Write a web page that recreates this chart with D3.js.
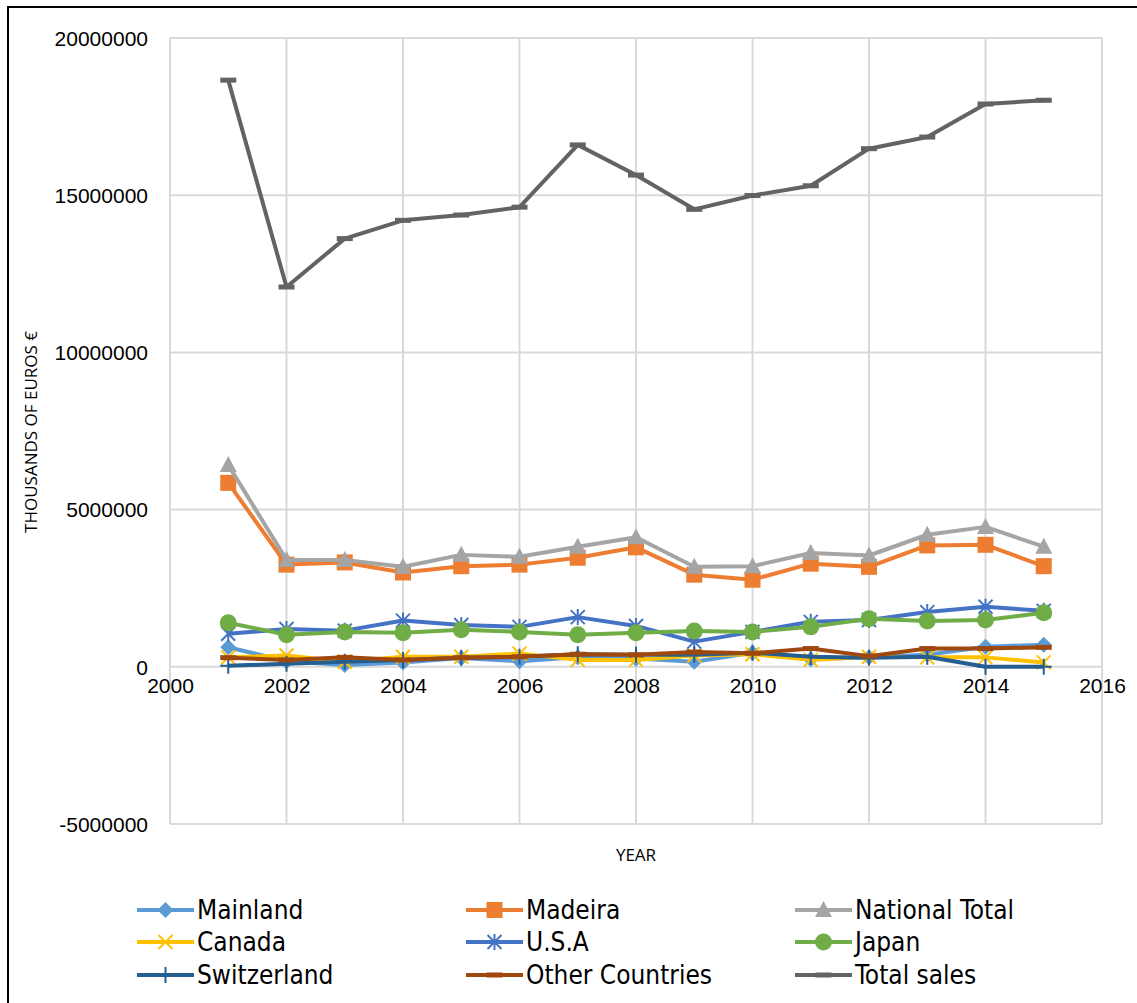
<!DOCTYPE html>
<html>
<head>
<meta charset="utf-8">
<script src="https://cdn.jsdelivr.net/npm/d3@7"></script>
<style>
  html, body { margin: 0; padding: 0; background: #fff; }
  svg { display: block; }
</style>
</head>
<body>
<svg id="chart" width="1137" height="1003"></svg>
<script>
// Sales by market, thousands of euros
const years = [2001, 2002, 2003, 2004, 2005, 2006, 2007, 2008, 2009, 2010, 2011, 2012, 2013, 2014, 2015];

const mainland       = [620000, 180000, 60000, 140000, 280000, 180000, 300000, 260000, 160000, 450000, 240000, 300000, 380000, 640000, 700000];
const madeira        = [5850000, 3250000, 3320000, 3000000, 3200000, 3250000, 3470000, 3800000, 2930000, 2770000, 3280000, 3180000, 3860000, 3880000, 3200000];
const nationalTotal  = [6420000, 3400000, 3400000, 3180000, 3560000, 3500000, 3820000, 4120000, 3180000, 3200000, 3620000, 3540000, 4200000, 4450000, 3820000];
const canada         = [300000, 360000, 160000, 320000, 320000, 420000, 220000, 220000, 360000, 400000, 220000, 320000, 300000, 300000, 140000];
const usa            = [1050000, 1200000, 1150000, 1470000, 1330000, 1270000, 1580000, 1300000, 800000, 1110000, 1430000, 1490000, 1740000, 1910000, 1780000];
const japan          = [1400000, 1020000, 1110000, 1080000, 1180000, 1110000, 1020000, 1080000, 1140000, 1110000, 1270000, 1530000, 1460000, 1490000, 1720000];
const switzerland    = [30000, 100000, 160000, 220000, 290000, 320000, 400000, 380000, 380000, 450000, 320000, 290000, 320000, 0, 0];
const otherCountries = [290000, 220000, 300000, 220000, 290000, 320000, 400000, 380000, 470000, 430000, 580000, 340000, 580000, 580000, 620000];
const totalSales     = [18660000, 12080000, 13620000, 14200000, 14370000, 14620000, 16600000, 15640000, 14550000, 14990000, 15300000, 16480000, 16850000, 17900000, 18020000];

const xTicks = [2000, 2002, 2004, 2006, 2008, 2010, 2012, 2014, 2016];
const yTicks = [-5000000, 0, 5000000, 10000000, 15000000, 20000000];

const seriesNames  = ["Mainland", "Madeira", "National Total", "Canada", "U.S.A", "Japan", "Switzerland", "Other Countries", "Total sales"];
const seriesValues = [mainland, madeira, nationalTotal, canada, usa, japan, switzerland, otherCountries, totalSales];
const seriesColors = ["#5B9BD5", "#ED7D31", "#A5A5A5", "#FFC000", "#4472C4", "#70AD47", "#255E91", "#9E480E", "#636363"];
const seriesMarkers = ["diamond", "square", "triangle", "x", "star", "circle", "plus", "dash", "dash"];

const svg = d3.select("#chart");

// outer frame (left and top edges visible)
svg.append("rect")
  .attr("x", 8).attr("y", 7)
  .attr("width", 1200).attr("height", 1100)
  .attr("fill", "none").attr("stroke", "#000").attr("stroke-width", 2);

const plot = { left: 170, right: 1102, top: 38, bottom: 824 };

const x = d3.scaleLinear().domain([2000, 2016]).range([plot.left, plot.right]);
const y = d3.scaleLinear().domain([-5000000, 20000000]).range([plot.bottom, plot.top]);

// gridlines
const grid = svg.append("g").attr("stroke", "#d9d9d9").attr("stroke-width", 2);
grid.selectAll("line.v").data(xTicks).join("line")
  .attr("x1", d => x(d)).attr("x2", d => x(d))
  .attr("y1", plot.top).attr("y2", plot.bottom);
grid.selectAll("line.h").data(yTicks).join("line")
  .attr("y1", d => y(d)).attr("y2", d => y(d))
  .attr("x1", plot.left).attr("x2", plot.right);

// axes (labels only, lines are drawn by the grid)
const plainNumber = d => String(d);
const xAxis = svg.append("g")
  .attr("transform", `translate(0,${y(0)})`)
  .call(d3.axisBottom(x).tickValues(xTicks).tickFormat(plainNumber).tickSize(0).tickPadding(19));
const yAxis = svg.append("g")
  .attr("transform", `translate(${plot.left},0)`)
  .call(d3.axisLeft(y).tickValues(yTicks).tickFormat(plainNumber).tickSize(0).tickPadding(22));
[xAxis, yAxis].forEach(a => {
  a.select(".domain").remove();
  a.selectAll("text")
    .attr("font-family", "'Liberation Sans', Arial, sans-serif")
    .attr("font-size", 21)
    .attr("fill", "#000");
});
yAxis.selectAll("text").attr("dy", "0.35em");
xAxis.selectAll("text").attr("dy", "0.35em");

// axis titles
svg.append("text")
  .attr("x", x(2008)).attr("y", 856)
  .attr("text-anchor", "middle").attr("dominant-baseline", "middle")
  .attr("font-family", "'Open Sans', 'Liberation Sans', sans-serif").attr("font-size", 17)
  .text("YEAR");
svg.append("text")
  .attr("transform", "translate(32,432) rotate(-90)")
  .attr("text-anchor", "middle").attr("dominant-baseline", "middle")
  .attr("font-family", "'Open Sans', 'Liberation Sans', sans-serif").attr("font-size", 17)
  .text("THOUSANDS OF EUROS €");

// marker drawing
function drawMarker(g, type, color, cx, cy) {
  const s = 8;
  if (type === "diamond") {
    g.append("path").attr("d", `M${cx},${cy - s}L${cx + s},${cy}L${cx},${cy + s}L${cx - s},${cy}Z`).attr("fill", color);
  } else if (type === "square") {
    g.append("rect").attr("x", cx - 8).attr("y", cy - 8).attr("width", 16).attr("height", 16).attr("fill", color);
  } else if (type === "triangle") {
    g.append("path").attr("d", `M${cx},${cy - 9}L${cx + 8.5},${cy + 7}L${cx - 8.5},${cy + 7}Z`).attr("fill", color);
  } else if (type === "circle") {
    g.append("circle").attr("cx", cx).attr("cy", cy).attr("r", 8.5).attr("fill", color);
  } else if (type === "x") {
    g.append("path").attr("d", `M${cx - 7},${cy - 7}L${cx + 7},${cy + 7}M${cx - 7},${cy + 7}L${cx + 7},${cy - 7}`)
      .attr("stroke", color).attr("stroke-width", 2).attr("fill", "none");
  } else if (type === "star") {
    g.append("path").attr("d", `M${cx - 7},${cy - 7}L${cx + 7},${cy + 7}M${cx - 7},${cy + 7}L${cx + 7},${cy - 7}M${cx},${cy - 8}L${cx},${cy + 8}`)
      .attr("stroke", color).attr("stroke-width", 2).attr("fill", "none");
  } else if (type === "plus") {
    g.append("path").attr("d", `M${cx},${cy - 8}L${cx},${cy + 8}M${cx - 8},${cy}L${cx + 8},${cy}`)
      .attr("stroke", color).attr("stroke-width", 2).attr("fill", "none");
  } else if (type === "dash") {
    g.append("rect").attr("x", cx - 8).attr("y", cy - 2.5).attr("width", 16).attr("height", 5).attr("fill", color);
  }
}

const line = d3.line().x((d, i) => x(years[i])).y(d => y(d));

seriesValues.forEach((vals, k) => {
  const g = svg.append("g");
  g.append("path").datum(vals)
    .attr("d", line)
    .attr("fill", "none")
    .attr("stroke", seriesColors[k])
    .attr("stroke-width", 4)
    .attr("stroke-linejoin", "round");
  vals.forEach((v, i) => drawMarker(g, seriesMarkers[k], seriesColors[k], x(years[i]), y(v)));
});

// legend
const legendCols = [137, 466, 795];
const legendRows = [910, 942, 975];
seriesNames.forEach((name, k) => {
  const lx = legendCols[k % 3], ly = legendRows[Math.floor(k / 3)];
  const g = svg.append("g");
  g.append("line").attr("x1", lx).attr("x2", lx + 57).attr("y1", ly).attr("y2", ly)
    .attr("stroke", seriesColors[k]).attr("stroke-width", 4);
  drawMarker(g, seriesMarkers[k], seriesColors[k], lx + 28.5, ly);
  g.append("text")
    .attr("x", lx + 60).attr("y", ly)
    .attr("dy", "0.35em")
    .attr("font-family", "'DejaVu Sans Condensed', 'DejaVu Sans', sans-serif")
    .attr("font-stretch", "condensed")
    .attr("font-size", 26)
    .attr("fill", "#000")
    .text(name);
});
</script>
</body>
</html>
